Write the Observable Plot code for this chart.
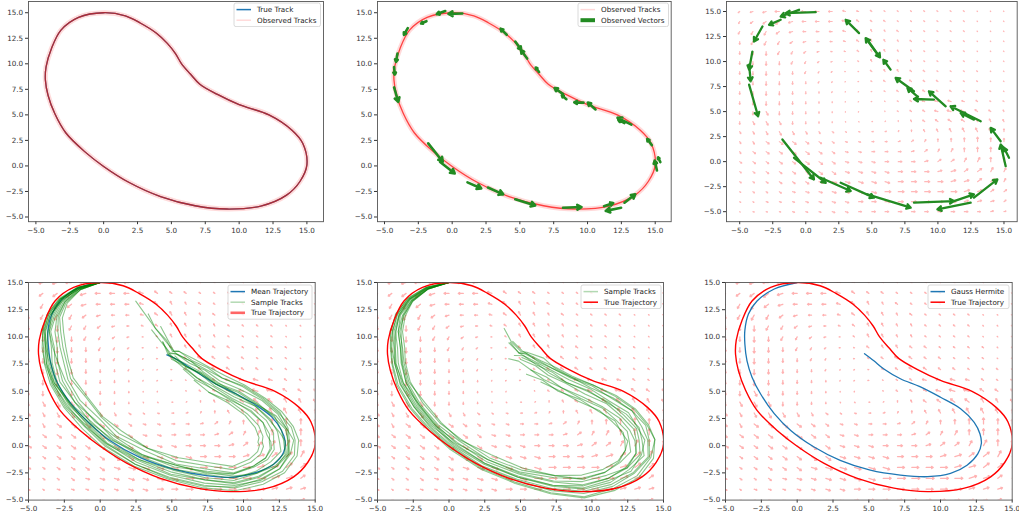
<!DOCTYPE html>
<html>
<head>
<meta charset="utf-8">
<script src="https://cdn.jsdelivr.net/npm/d3@7"></script>
<script src="https://cdn.jsdelivr.net/npm/@observablehq/plot@0.6"></script>
<style>
html,body{margin:0;padding:0;background:#fff;}
#root{position:relative;width:1019px;height:517px;overflow:hidden;background:#fff;font-family:"DejaVu Sans",sans-serif;}
</style>
</head>
<body>
<div id="root"></div>
<script>
// ---------------- data ----------------
const axisTicks = [-5, -2.5, 0, 2.5, 5, 7.5, 10, 12.5, 15];

// true (closed) trajectory, counter-clockwise from the top
const trueX = [0.0,-1.85,-3.15,-3.85,-4.25,-4.3,-4.1,-3.6,-2.8,-1.4,0.0,1.85,4.2,6.75,9.1,11.6,13.5,14.5,15.0,14.7,13.9,12.2,10.0,8.4,7.1,6.4,5.75,5.3,4.7,3.9,2.7,1.6];
const trueY = [15.0,14.55,13.3,11.5,9.7,8.4,6.9,5.1,3.25,1.4,-0.05,-1.6,-3.0,-3.9,-4.22,-3.93,-2.86,-1.5,0.1,2.2,3.5,5.0,6.0,7.0,8.0,9.0,10.0,11.0,12.0,13.0,14.0,14.7];

// mean trajectory (panel 4) and its continuation used by sample tracks
const meanX = [0.0,-1.5,-2.7,-3.4,-3.65,-3.6,-3.45,-3.0,-2.0,-0.7,0.7,2.8,5.1,7.4,9.3,10.9,12.1,12.8,12.9,12.65,12.0,10.9,9.5,8.1,7.0,6.05,5.1,4.65];
const meanY = [15.0,14.5,13.4,12.0,10.5,9.0,7.6,5.8,3.8,2.0,0.45,-1.1,-2.15,-2.75,-2.9,-2.45,-1.7,-0.6,0.45,1.4,2.6,3.7,4.75,5.65,6.55,7.35,8.1,8.35];
const guideExtX = [4.1,3.5,2.9,2.3];
const guideExtY = [9.4,10.6,11.9,13.2];

// Gauss Hermite trajectory (panel 6)
const ghX = [0.0,-1.6,-2.8,-3.4,-3.65,-3.65,-3.5,-3.15,-2.55,-1.6,-0.45,1.15,3.0,5.1,7.2,9.1,10.7,11.85,12.6,12.85,12.75,12.35,11.4,10.0,8.6,7.2,6.05,5.35,4.7];
const ghY = [15.0,14.4,13.3,12.1,10.6,9.35,7.8,6.3,4.75,2.95,1.4,-0.1,-1.35,-2.25,-2.7,-2.85,-2.55,-1.8,-0.75,0.2,1.1,2.15,3.4,4.45,5.4,6.15,7.05,7.8,8.45];

// sample tracks: sideways offsets (outward +) from the guide path, panel 4
const sampleOffsets4 = [
 [0,0.1,0.2,0.3,0.4,0.35,0.45,0.5,0.6,0.7,0.8,0.9,1.0,1.15,1.25,1.2,1.1,1.0,0.95,0.9,0.85,0.9,1.0,1.0,0.9,0.8,0.7,0.6,0.5,0.4,0.3,0.2],
 [0,0.05,0.1,0.2,0.25,0.2,0.3,0.4,0.5,0.45,0.6,0.7,0.8,0.9,1.0,0.95,0.9,0.8,0.7,0.75,0.6,0.7,0.8,0.7,0.6,0.5,0.4,0.3,0.2,0.1],
 [0,0,-0.1,0.1,0.2,0.1,0.2,0.3,0.3,0.4,0.35,0.5,0.6,0.7,0.75,0.8,0.6,0.5,0.6,0.4,0.5,0.6,0.5,0.4,0.5,0.3,0.4,0.2,0.3],
 [0,-0.1,0,-0.1,0,0.1,0,0.1,0.2,0.1,0.3,0.2,0.3,0.4,0.5,0.4,0.3,0.4,0.2,0.3,0.1,0.2,0.3,0.1,0.2,0.1,0.0,0.1],
 [0,0,0.1,0,-0.1,-0.2,-0.1,0,0.1,0,0.1,0.2,0.1,0.2,0.3,0.1,0.0,0.1,-0.1,0.0,0.2,0.1,-0.1,0.0,0.1,-0.1,0.0,0.2],
 [0,-0.1,-0.2,-0.3,-0.2,-0.4,-0.3,-0.2,-0.3,-0.1,-0.2,-0.1,0,-0.1,0.1,-0.1,-0.3,-0.2,-0.4,-0.3,-0.2,-0.1,-0.3,-0.2,0,-0.1,-0.2],
 [0,-0.1,-0.3,-0.4,-0.5,-0.6,-0.5,-0.6,-0.5,-0.4,-0.5,-0.3,-0.4,-0.2,-0.3,-0.5,-0.6,-0.7,-0.8,-0.6,-0.5,-0.4,-0.5,-0.3,-0.4,-0.2],
 [0,-0.2,-0.3,-0.5,-0.7,-0.8,-0.9,-0.8,-0.7,-0.8,-0.6,-0.7,-0.5,-0.6,-0.4,-0.6,-0.8,-1.0,-1.1,-0.9,-0.8,-0.7,-0.6,-0.5,-0.6,-0.4],
 [0,-0.2,-0.4,-0.6,-0.9,-1.0,-1.1,-1.0,-1.2,-1.0,-0.9,-1.0,-0.8,-0.9,-0.7,-1.0,-1.3,-1.5,-1.6,-1.4,-1.2,-1.0,-0.8,-0.9,-0.7],
 [0,-0.2,-0.5,-0.8,-1.1,-1.2,-1.25,-1.2,-1.3,-1.1,-1.2,-1.0,-1.1,-1.2,-1.0,-1.3,-1.6,-1.8,-1.9,-1.7,-1.5,-1.2,-1.0,-0.9],
 [0,0.1,0.1,0.2,0.3,0.2,0.1,0.2,0.0,-0.2,-0.1,-0.3,-0.2,-0.4,-0.3,-0.6,-0.8,-0.9,-1.0,-1.1,-0.8,-0.6,-0.7,-0.5,-0.4,-0.3,-0.1,0.1,0.3],
 [0,0.05,0.15,0.3,0.35,0.45,0.4,0.3,0.4,0.3,0.5,0.7,0.9,1.0,0.9,0.7,0.6,0.4,0.3,0.5,0.7,0.8,0.9,0.7,0.8,0.6,0.7,0.5,0.6,0.4,0.5],
 [0,0,-0.1,-0.2,-0.1,-0.3,-0.5,-0.4,-0.3,-0.5,-0.3,-0.2,-0.4,-0.3,-0.1,0.1,0.2,0.3,0.2,0.4,0.3,0.1,0.2,0.0,0.1,-0.1,0.2],
 [0,-0.1,0,0.1,0.15,0.25,0.3,0.2,0.1,0.2,0.4,0.3,0.5,0.4,0.6,0.5,0.3,0.2,0.0,-0.2,-0.3,-0.1,0.0,0.2,0.3,0.5,0.4,0.6,0.7,0.8]
];
// panel 5
const sampleOffsets5 = [
 [0,0.1,0.2,0.35,0.4,0.45,0.5,0.6,0.7,0.8,0.9,1.1,1.3,1.6,1.8,1.6,1.5,1.4,1.5,1.3,1.2,1.1,1.0,0.9,0.8,0.6,0.5,0.6,0.4],
 [0,0.05,0.15,0.2,0.3,0.25,0.35,0.4,0.5,0.6,0.7,0.9,1.0,1.2,1.3,1.2,1.1,1.2,1.0,0.9,1.0,0.8,0.9,0.7,0.6,0.5,0.4,0.3],
 [0,0,0.1,0.1,0.2,0.15,0.25,0.3,0.4,0.5,0.4,0.6,0.7,0.9,1.0,0.8,0.9,0.7,0.8,0.6,0.7,0.5,0.6,0.5,0.4,0.3,0.2,0.3,0.1],
 [0,-0.05,0,0.05,0.1,0,0.1,0.2,0.1,0.3,0.2,0.4,0.5,0.6,0.7,0.6,0.5,0.6,0.4,0.5,0.3,0.4,0.3,0.2,0.1,0.2,0.0],
 [0,-0.1,-0.1,0,-0.1,-0.2,-0.1,0,0.1,0.2,0.3,0.2,0.4,0.5,0.4,0.3,0.5,0.3,0.2,0.3,0.1,0.2,0.0,0.1,-0.1,0.0,-0.2],
 [0,-0.1,-0.2,-0.2,-0.3,-0.3,-0.2,-0.1,0,0.1,0.0,0.2,0.3,0.2,0.1,0.0,-0.2,-0.1,-0.3,-0.2,-0.4,-0.3,-0.5,-0.4,-0.6,-0.5],
 [0,-0.1,-0.2,-0.35,-0.4,-0.5,-0.4,-0.3,-0.2,-0.1,-0.2,0.0,0.1,0.0,0.2,0.0,-0.3,-0.5,-0.6,-0.5,-0.7,-0.6,-0.8,-0.7,-0.9],
 [0,0.1,0.25,0.3,0.45,0.5,0.55,0.7,0.8,0.9,1.0,1.2,1.4,1.7,1.9,1.8,1.7,1.6,1.5,1.4,1.3,1.2,1.0,0.8,0.7,0.9,0.6,0.5,0.3,0.4],
 [0,0,0.05,0.1,0.05,0.2,0.3,0.2,0.3,0.4,0.6,0.7,0.8,1.0,1.1,1.0,0.7,0.9,0.6,0.7,0.5,0.3,0.4,0.2,0.3,0.1,0.2,-0.1],
 [0,-0.1,-0.15,-0.25,-0.2,-0.35,-0.3,-0.2,-0.35,-0.2,-0.1,-0.3,-0.1,0.0,-0.2,-0.3,-0.4,-0.5,-0.4,-0.6,-0.5,-0.7,-0.6,-0.8,-0.7,-1.0],
 [0,0.05,0.1,0.25,0.3,0.4,0.35,0.45,0.5,0.7,0.8,1.0,1.1,1.4,1.5,1.4,1.2,1.3,1.1,1.2,1.0,0.9,0.7,0.8,0.6,0.4,0.5,0.3,0.2],
 [0,-0.05,-0.1,-0.15,-0.1,-0.2,-0.15,0.0,0.2,0.3,0.5,0.6,0.8,0.9,0.8,0.6,0.4,0.3,0.1,0.0,-0.1,-0.2,-0.3,-0.4,-0.3,-0.5,-0.4,-0.6]
];

// observed velocity vectors: tail position and vector (panel 3 scale)
const vecX = [0.75,-0.51,-1.9,-3.28,-4.04,-4.29,-4.29,4.03,5.54,4.66,6.42,8.19,8.44,9.7,10.59,13.24,12.73,15.13,14.75,15.38,12.73,11.22,8.19,12.48,4.66,2.64,1.13,-1.77,-0.89];
const vecY = [14.93,15.17,14.17,13.5,11.0,9.68,7.69,12.84,10.51,12.18,9.19,7.03,6.53,6.2,5.53,4.04,4.2,-0.45,2.04,0.38,-3.6,-3.94,-4.1,-4.1,-3.27,-2.11,-1.61,2.21,0.38];
const vecU = [-2.27,-1.39,-0.88,-0.64,-0.25,0.12,0.68,-1.01,-1.01,0.96,-0.55,-1.39,-0.75,-1.51,-1.27,-2.28,-1.01,-0.38,-0.76,-0.38,1.77,1.51,3.03,-2.52,3.28,2.52,2.27,2.39,2.4];
const vecV = [-0.1,-0.67,-0.5,-1.5,-1.81,-1.66,-3.16,1.33,1.83,-1.76,0.99,1.33,0.83,0.06,1.5,1.49,0.67,2.16,1.33,1.0,1.82,0.67,0.16,-0.67,-1.33,-1.49,-1.33,-3.99,-2.49];

// estimated velocity field: grid, direction codes (hex, 16 compass steps CCW from east) and magnitude codes
const fieldX = [-5,-4,-3,-2,-1,0,1,2,3,4,5,6,7,8,9,10,11,12,13,14,15];
const fieldY = [15,14,13,12,11,10,9,8,7,6,5,4,3,2,1,0,-1,-2,-3,-4,-5];
const fieldDir = [
 "a99888887766666666666",
 "baaa98887666666666666",
 "bbba98887655666666666",
 "cbbba9887655566666666",
 "cccbba987655556666666",
 "ccccbba98655556666666",
 "cccccbba8765566666666",
 "ccccccbba866666666666",
 "cccccccbba86666666666",
 "ccccccccba86667777666",
 "ccdccccccb85666777665",
 "cdddccccde02456666555",
 "dddddddeef01345555554",
 "ddeeeeeeff00123444444",
 "deeeeeeeff00012334444",
 "eeeeeeeefff0001223344",
 "eeeeeeeeffff000112233",
 "eeeeeeffffff000011223",
 "eeeefffffff0000001122",
 "eefffffff000000001112",
 "effffffff000000000011"
];
const fieldMag = [
 "345666654332222222111",
 "456765555433222222111",
 "567654444543322222111",
 "567654333454332222111",
 "567654322344332222111",
 "567654321244332222111",
 "567654321134433222211",
 "567654321123443322211",
 "567654321112344332221",
 "567654321111234554322",
 "567654321101234566543",
 "567654321111234566654",
 "456765432222234567765",
 "456776543333344567876",
 "456677654444445567887",
 "455667765555555667887",
 "345566776666666677887",
 "334556677777777777876",
 "233445566778888888765",
 "223334455667777776654",
 "122233344455555555443"
];

// ---------------- helpers ----------------
const root = document.getElementById("root");
const BLUE = "#1f77b4", FOREST = "#228b22";
const fmt = d => (d < 0 ? "\u2212" : "") + Math.abs(d).toFixed(1);

const truePts = trueX.map((x, i) => ({x, y: trueY[i]}));
const meanPts = meanX.map((x, i) => ({x, y: meanY[i]}));
const ghPts = ghX.map((x, i) => ({x, y: ghY[i]}));
const guide = meanX.map((x, i) => [x, meanY[i]]).concat(guideExtX.map((x, i) => [x, guideExtY[i]]));
const vecRows = vecX.map((x, i) => ({x, y: vecY[i], u: vecU[i], v: vecV[i]}));

const fieldRows = [];
fieldY.forEach((y, i) => fieldX.forEach((x, j) => {
  const c = fieldDir[i][j], m = +fieldMag[i][j];
  if (c === undefined || !(m > 0)) return;
  const a = parseInt(c, 16) * Math.PI / 8;
  fieldRows.push({x, y, dx: Math.cos(a) * m, dy: Math.sin(a) * m});
}));

function tracks(offsets) {
  const rows = [];
  offsets.forEach((offs, k) => {
    offs.forEach((o, i) => {
      const a = guide[Math.max(0, i - 1)], b = guide[Math.min(guide.length - 1, i + 1)];
      let dx = b[0] - a[0], dy = b[1] - a[1];
      const L = Math.hypot(dx, dy) || 1;
      dx /= L; dy /= L;
      rows.push({k, x: guide[i][0] + o * dy, y: guide[i][1] - o * dx});
    });
  });
  return rows;
}
const samples4 = tracks(sampleOffsets4);
const samples5 = tracks(sampleOffsets5);

function field(scale, opacity, sw) {
  return Plot.arrow(fieldRows, {
    x1: "x", y1: "y",
    x2: d => d.x + d.dx * scale, y2: d => d.y + d.dy * scale,
    stroke: "red", strokeOpacity: opacity, strokeWidth: sw, headLength: 2.2, headAngle: 70, clip: true
  });
}
function vectors(scale, sw, hl) {
  return Plot.arrow(vecRows, {
    x1: "x", y1: "y",
    x2: d => d.x + d.u * scale, y2: d => d.y + d.v * scale,
    stroke: FOREST, strokeWidth: sw, headLength: hl, headAngle: 60, clip: true
  });
}
function trackLine(data, opts) {
  return Plot.line(data, {x: "x", y: "y", clip: true, ...opts});
}

function panel(p) {
  const ml = 40, mr = 12, mt = 10, mb = 25;
  const w = p.R - p.L, h = p.B - p.T;
  const svg = Plot.plot({
    width: w + ml + mr, height: h + mt + mb,
    marginLeft: ml, marginRight: mr, marginTop: mt, marginBottom: mb,
    x: {domain: p.xd, ticks: axisTicks, tickFormat: fmt, tickSize: 3, tickPadding: 3, label: null},
    y: {domain: p.yd, ticks: axisTicks, tickFormat: fmt, tickSize: 3, tickPadding: 2.3, label: null},
    style: {fontFamily: "'DejaVu Sans', sans-serif", fontSize: "7.2px", color: "#333", background: "none", overflow: "visible"},
    marks: [...p.marks, Plot.frame({stroke: "#555", strokeWidth: 0.9})]
  });
  svg.style.position = "absolute";
  svg.style.left = (p.L - ml) + "px";
  svg.style.top = (p.T - mt) + "px";
  root.appendChild(svg);
}

function legend(x, y, w, entries) {
  const h = entries.length * 10.6 + 2.4;
  const svg = d3.create("svg")
    .attr("width", w + 2).attr("height", h + 2)
    .style("position", "absolute").style("left", (x - 1) + "px").style("top", (y - 1) + "px")
    .style("font-family", "'DejaVu Sans', sans-serif").style("font-size", "7.2px");
  svg.append("rect").attr("x", 1).attr("y", 1).attr("width", w).attr("height", h).attr("rx", 2)
    .attr("fill", "white").attr("fill-opacity", 0.8).attr("stroke", "#d0d0d0").attr("stroke-width", 0.8);
  entries.forEach((e, i) => {
    const cy = 1 + 6.6 + i * 10.6;
    if (e.patch) {
      svg.append("rect").attr("x", 3.5).attr("y", cy - 2).attr("width", 14.5).attr("height", 4).attr("fill", e.color);
    } else {
      svg.append("line").attr("x1", 3.5).attr("x2", 18).attr("y1", cy).attr("y2", cy)
        .attr("stroke", e.color).attr("stroke-width", e.width || 1.5).attr("stroke-opacity", e.opacity ?? 1);
    }
    svg.append("text").attr("x", 24).attr("y", cy + 2.6).attr("fill", "#222").text(e.label);
  });
  root.appendChild(svg.node());
}

// ---------------- panels ----------------
const closed = {curve: "catmull-rom-closed"};

// 1: true track + observed tracks
panel({L: 28.3, R: 323.3, T: 0.5, B: 220.7, xd: [-5.546, 16.225], yd: [-5.46, 16.1], marks: [
  trackLine(truePts, {...closed, stroke: BLUE, strokeWidth: 1.3}),
  trackLine(truePts, {...closed, stroke: "red", strokeOpacity: 0.14, strokeWidth: 5}),
  trackLine(truePts, {...closed, stroke: "#c81c1c", strokeOpacity: 0.8, strokeWidth: 1.3})
]});
legend(233.5, 2.7, 86.5, [
  {label: "True Track", color: BLUE},
  {label: "Observed Tracks", color: "red", opacity: 0.15}
]);

// 2: observed tracks + observed vectors
panel({L: 377.3, R: 671, T: 0.5, B: 220.7, xd: [-5.517, 16.18], yd: [-5.46, 16.1], marks: [
  trackLine(truePts, {...closed, stroke: "red", strokeOpacity: 0.15, strokeWidth: 5}),
  trackLine(truePts, {...closed, stroke: "red", strokeOpacity: 0.7, strokeWidth: 1.3}),
  vectors(0.45, 2.6, 2.8)
]});
legend(578, 2.7, 90.5, [
  {label: "Observed Tracks", color: "red", opacity: 0.15},
  {label: "Observed Vectors", color: FOREST, patch: true}
]);

// 3: field + observed vectors
panel({L: 725.7, R: 1016.4, T: 0.5, B: 220.7, xd: [-6, 16], yd: [-6, 16], marks: [
  field(0.055, 0.28, 1.2),
  vectors(1, 2.3, 3)
]});

// 4: mean trajectory + samples + true
panel({L: 28.3, R: 315, T: 281.7, B: 499.3, xd: [-5, 15], yd: [-5, 15], marks: [
  field(0.07, 0.3, 1.3),
  trackLine(meanPts, {stroke: BLUE, strokeWidth: 1.3, curve: "catmull-rom"}),
  Plot.line(samples4, {x: "x", y: "y", z: "k", stroke: "green", strokeOpacity: 0.45, strokeWidth: 1.1, clip: true}),
  trackLine(truePts, {...closed, stroke: "red", strokeWidth: 1.4})
]});
legend(228, 284.8, 84, [
  {label: "Mean Trajectory", color: BLUE},
  {label: "Sample Tracks", color: "green", opacity: 0.3},
  {label: "True Trajectory", color: "red", width: 2.6, opacity: 0.6}
]);

// 5: samples + true
panel({L: 377.3, R: 663.3, T: 281.7, B: 499.3, xd: [-5, 15], yd: [-5, 15], marks: [
  field(0.07, 0.3, 1.3),
  Plot.line(samples5, {x: "x", y: "y", z: "k", stroke: "green", strokeOpacity: 0.45, strokeWidth: 1.1, clip: true}),
  trackLine(truePts, {...closed, stroke: "red", strokeWidth: 1.4})
]});
legend(580.7, 284.8, 80, [
  {label: "Sample Tracks", color: "green", opacity: 0.3},
  {label: "True Trajectory", color: "red"}
]);

// 6: Gauss Hermite + true
panel({L: 725, R: 1011.7, T: 281.7, B: 499.3, xd: [-5, 15], yd: [-5, 15], marks: [
  field(0.07, 0.3, 1.3),
  trackLine(ghPts, {stroke: BLUE, strokeWidth: 1.3, curve: "catmull-rom"}),
  trackLine(truePts, {...closed, stroke: "red", strokeWidth: 1.4})
]});
legend(928.3, 284.8, 81, [
  {label: "Gauss Hermite", color: BLUE},
  {label: "True Trajectory", color: "red"}
]);
</script>
</body>
</html>
